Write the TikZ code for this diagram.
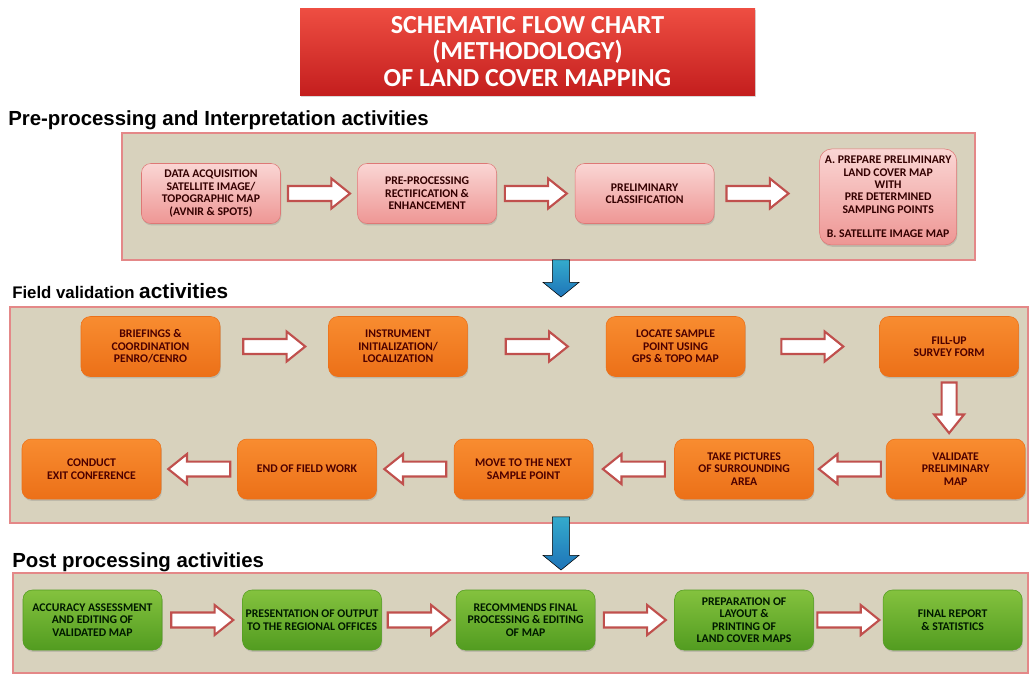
\documentclass[tikz,border=0pt]{standalone}
\usepackage{fontspec}
\setmainfont{Carlito}
\newfontfamily\headfont{Liberation Sans}
\usetikzlibrary{positioning, calc, shadows}
\definecolor{titletop}{RGB}{238, 78, 66}
\definecolor{titlebot}{RGB}{196, 30, 30}
\definecolor{panelfill}{RGB}{216, 210, 189}
\definecolor{paneledge}{RGB}{228, 136, 136}
\definecolor{arrowred}{RGB}{192, 80, 77}
\definecolor{pinktop}{RGB}{250, 214, 212}
\definecolor{pinkbot}{RGB}{238, 150, 148}
\definecolor{pinkedge}{RGB}{222, 120, 118}
\definecolor{orangetop}{RGB}{248, 140, 48}
\definecolor{orangebot}{RGB}{236, 112, 24}
\definecolor{greentop}{RGB}{132, 194, 62}
\definecolor{greenbot}{RGB}{82, 156, 32}
\definecolor{bluetop}{RGB}{52, 170, 204}
\definecolor{bluebot}{RGB}{30, 116, 184}

% sizes of the block arrows
\tikzset{
  fatlen/.code={\def\fatlen{#1}}, fatlen=23.25pt,
  fatshaft/.code={\def\fatshaft{#1}}, fatshaft=5.6pt,
  fathead/.code={\def\fathead{#1}}, fathead=11.25pt,
  fattip/.code={\def\fattip{#1}}, fattip=14pt,
  fatpath/.style={line join=miter,
    to path={
      ($(\tikztostart)!.5!(\tikztotarget)!\fatlen!(\tikztostart)!\fatshaft!90:(\tikztotarget)$)
      -- ($(\tikztostart)!.5!(\tikztotarget)!\fatlen!(\tikztotarget)!\fattip!(\tikztostart)!\fatshaft!90:(\tikztotarget)$)
      -- ($(\tikztostart)!.5!(\tikztotarget)!\fatlen!(\tikztotarget)!\fattip!(\tikztostart)!\fathead!90:(\tikztotarget)$)
      -- ($(\tikztostart)!.5!(\tikztotarget)!\fatlen!(\tikztotarget)$)
      -- ($(\tikztostart)!.5!(\tikztotarget)!\fatlen!(\tikztotarget)!\fattip!(\tikztostart)!\fathead!-90:(\tikztotarget)$)
      -- ($(\tikztostart)!.5!(\tikztotarget)!\fatlen!(\tikztotarget)!\fattip!(\tikztostart)!\fatshaft!-90:(\tikztotarget)$)
      -- ($(\tikztostart)!.5!(\tikztotarget)!\fatlen!(\tikztostart)!\fatshaft!-90:(\tikztotarget)$)
      -- cycle}}
}

\begin{document}
\begin{tikzpicture}[
    x=0.75pt, y=-0.75pt,
    box/.style={rounded corners=7pt, minimum width=104.25pt, minimum height=45pt,
                inner sep=2pt, align=center, font=\fontsize{8.8}{9.3}\selectfont\bfseries,
                drop shadow={opacity=0.3, shadow xshift=0.6pt, shadow yshift=-1.4pt}},
    pinkbox/.style={box, top color=pinktop, bottom color=pinkbot, draw=pinkedge, text=black!80!red},
    orangebox/.style={box, top color=orangetop, bottom color=orangebot, draw=orangebot, text=red!30!black},
    greenbox/.style={box, top color=greentop, bottom color=greenbot, draw=greenbot, text=green!10!black},
    titlebox/.style={top color=titletop, bottom color=titlebot, minimum width=341.25pt,
                minimum height=65.25pt, align=center, text=white,
                font=\fontsize{19.5}{20}\selectfont\bfseries,
                drop shadow={opacity=0.3, shadow xshift=1pt, shadow yshift=-1.5pt}},
    panel/.style={fill=panelfill, draw=paneledge, line width=1.8pt},
    heading/.style={anchor=base west, inner sep=0pt, font=\headfont\bfseries\fontsize{15.3}{17}\selectfont},
    fat/.style={fatpath, draw=arrowred, line width=1.6pt, fill=white},
    bluefat/.style={fatpath, top color=bluetop, bottom color=bluebot, fatshaft=6.4pt,
                fathead=13.5pt, fattip=11pt}
  ]
  \useasboundingbox (0,0) rectangle (1030,675);

  % Title
  \node[titlebox] (title) at (527.5,51.5) {SCHEMATIC FLOW CHART\\(METHODOLOGY)\\OF LAND COVER MAPPING};

  % Panels and headings
  \node[heading] (h1) at (8,125) {Pre-processing and Interpretation activities};
  \node[panel, minimum width=639.75pt, minimum height=95.25pt] (pn1) at (548.5,196.5) {};
  \node[heading] (h2) at (12,298.5) {{\fontsize{12.6}{14}\selectfont Field validation }{\fontsize{15.6}{17}\selectfont activities}};
  \node[panel, minimum width=763.5pt, minimum height=162pt] (pn2) at (519,415) {};
  \node[heading] (h3) at (12,567) {Post processing activities};
  \node[panel, minimum width=761.25pt, minimum height=75pt] (pn3) at (520.5,623) {};

  % Nodes - pre-processing
  \node[pinkbox] (p1a) at (211,193.5) {DATA ACQUISITION\\SATELLITE IMAGE/\\TOPOGRAPHIC MAP\\(AVNIR \& SPOT5)};
  \node[pinkbox, right=57.4pt of p1a]  (p1b) {PRE-PROCESSING\\RECTIFICATION \&\\ENHANCEMENT};
  \node[pinkbox, right=58.5pt of p1b]  (p1c) {PRELIMINARY\\CLASSIFICATION};
  \node[pinkbox, right=78.75pt of p1c, minimum width=102.75pt, minimum height=72pt,
        rounded corners=9pt, yshift=-2.6pt] (p1d)
       {A. PREPARE PRELIMINARY\\LAND COVER MAP\\WITH\\PRE DETERMINED\\SAMPLING POINTS\\[9pt]B. SATELLITE IMAGE MAP};

  % Nodes - field validation
  \node[orangebox] (f1) at (150.5,346.5) {BRIEFINGS \&\\COORDINATION\\PENRO/CENRO};
  \node[orangebox, right=81pt of f1]    (f2) {INSTRUMENT\\INITIALIZATION/\\LOCALIZATION};
  \node[orangebox, right=103.5pt of f2] (f3) {LOCATE SAMPLE\\POINT USING\\GPS \& TOPO MAP};
  \node[orangebox, right=100.5pt of f3] (f4) {FILL-UP\\SURVEY FORM};
  \node[orangebox, below=46.5pt of f4, xshift=4.9pt] (f5) {VALIDATE\\PRELIMINARY\\MAP};
  \node[orangebox, left=54pt of f5]     (f6) {TAKE PICTURES\\OF SURROUNDING\\AREA};
  \node[orangebox, left=60.75pt of f6]  (f7) {MOVE TO THE NEXT\\SAMPLE POINT};
  \node[orangebox, left=57.75pt of f7]  (f8) {END OF FIELD WORK};
  \node[orangebox, left=57pt of f8]     (f9) {CONDUCT\\EXIT CONFERENCE};

  % Nodes - post processing
  \node[greenbox] (g1) at (92.5,620) {ACCURACY ASSESSMENT\\AND EDITING OF\\VALIDATED MAP};
  \node[greenbox, right=60pt of g1]    (g2) {PRESENTATION OF OUTPUT\\TO THE REGIONAL OFFICES};
  \node[greenbox, right=55.5pt of g2]  (g3) {RECOMMENDS FINAL\\PROCESSING \& EDITING\\OF MAP};
  \node[greenbox, right=59.25pt of g3] (g4) {PREPARATION OF\\LAYOUT \&\\PRINTING OF\\LAND COVER MAPS};
  \node[greenbox, right=51.75pt of g4] (g5) {FINAL REPORT\\\& STATISTICS};

  % Arrows
  \draw[fat] (p1a) to (p1b);
  \draw[fat] (p1b) to (p1c);
  \draw[fat] (p1c.east) to ([xshift=-14pt]p1c -| p1d.west);

  \draw[fat] (f1) to (f2);
  \draw[fat] (f2) to (f3);
  \draw[fat] (f3) to (f4);
  \draw[fat, fatlen=19pt] (f4) to (f4 |- f5);
  \draw[fat] (f5) to (f6);
  \draw[fat] (f6) to (f7);
  \draw[fat] (f7) to (f8);
  \draw[fat] (f8) to (f9);

  \draw[fat] (g1) to (g2);
  \draw[fat] (g2) to (g3);
  \draw[fat] (g3) to (g4);
  \draw[fat] (g4) to (g5);

  % Arrows between the phases
  \coordinate (b1s) at (561,260);
  \coordinate (b1e) at (561,297);
  \coordinate (b2s) at (561,517);
  \coordinate (b2e) at (561,570);
  \draw[bluefat, fatlen=13.9pt] (b1s) to (b1e);
  \draw[bluefat, fatlen=19.9pt] (b2s) to (b2e);
\end{tikzpicture}
\end{document}
